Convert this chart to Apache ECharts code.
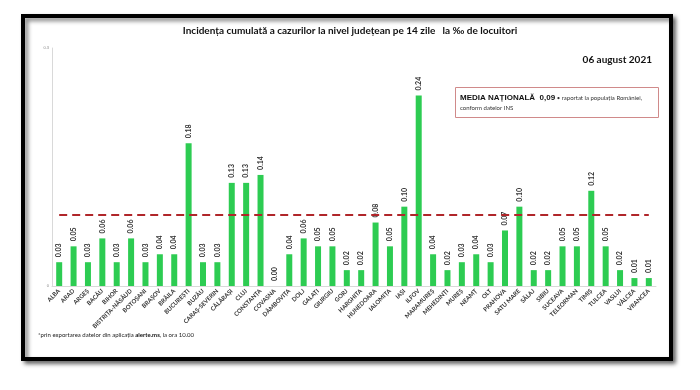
<!DOCTYPE html>
<html>
<head>
<meta charset="utf-8">
<script src="https://cdn.jsdelivr.net/npm/echarts@6/dist/echarts.min.js"></script>
<style>html,body{margin:0;padding:0;background:#fff;}#c{width:700px;height:390px;}</style>
</head>
<body>
<div id="c"></div>
<script>
var counties = ['ALBA','ARAD','ARGEȘ','BACĂU','BIHOR','BISTRIȚA-NĂSĂUD','BOTOȘANI','BRAȘOV','BRĂILA','BUCUREȘTI','BUZĂU','CARAȘ-SEVERIN','CĂLĂRAȘI','CLUJ','CONSTANȚA','COVASNA','DÂMBOVIȚA','DOLJ','GALAȚI','GIURGIU','GORJ','HARGHITA','HUNEDOARA','IALOMIȚA','IAȘI','ILFOV','MARAMUREȘ','MEHEDINȚI','MUREȘ','NEAMȚ','OLT','PRAHOVA','SATU MARE','SĂLAJ','SIBIU','SUCEAVA','TELEORMAN','TIMIȘ','TULCEA','VASLUI','VÂLCEA','VRANCEA'];
var incidence = [0.03,0.05,0.03,0.06,0.03,0.06,0.03,0.04,0.04,0.18,0.03,0.03,0.13,0.13,0.14,0.00,0.04,0.06,0.05,0.05,0.02,0.02,0.08,0.05,0.10,0.24,0.04,0.02,0.03,0.04,0.03,0.07,0.10,0.02,0.02,0.05,0.05,0.12,0.05,0.02,0.01,0.01];
var nationalAverage = 0.09;
var yMax = 0.3;
var titleText = 'Incidența cumulată a cazurilor la nivel județean pe 14 zile   la ‰ de locuitori';
var dateText = '06 august 2021';

var chart = echarts.init(document.getElementById('c'));
chart.setOption({
  animation: false,
  backgroundColor: '#ffffff',
  grid: {left: 52, right: 44, top: 48, bottom: 104},
  xAxis: {
    type: 'category',
    data: counties,
    axisLine: {lineStyle: {color: '#d9d9d9', width: 1}},
    axisTick: {show: false},
    axisLabel: {rotate: 45, interval: 0, fontSize: 6, fontWeight: 'bold', color: '#333', fontFamily: 'Lato', margin: 4}
  },
  yAxis: {
    type: 'value', min: 0, max: yMax, interval: yMax,
    axisLine: {show: true, lineStyle: {color: '#d9d9d9', width: 1}},
    axisTick: {show: false},
    splitLine: {show: false},
    axisLabel: {fontSize: 4, color: '#888', margin: 3, formatter: function(v){return v===0?'0':String(v);}}
  },
  series: [{
    type: 'bar',
    data: incidence,
    barWidth: 6,
    itemStyle: {color: '#2dcc52'},
    label: {
      show: true, position: 'top', rotate: 90, align: 'left', verticalAlign: 'middle', distance: 5,
      fontSize: 7, fontWeight: 'bold', color: '#333', fontFamily: 'Lato',
      formatter: function(p){return p.value.toFixed(2);}
    },
    markLine: {
      silent: true, symbol: 'none', label: {show: false},
      lineStyle: {color: '#b0262a', type: [8, 5], width: 2},
      data: [[{coord: [0, nationalAverage]}, {coord: [counties.length - 1, nationalAverage]}]]
    }
  }],
  graphic: [
    {type: 'rect', z: -1, shape: {x: 23, y: 16, width: 648, height: 343},
     style: {fill: '#fff', stroke: '#000', lineWidth: 4, shadowBlur: 4, shadowOffsetX: 3, shadowOffsetY: 3, shadowColor: 'rgba(0,0,0,0.5)'}},
    {type: 'text', x: 350, y: 31, style: {text: titleText, fontFamily: 'Lato', fontWeight: 'bold', fontSize: 10, fill: '#111', align: 'center', verticalAlign: 'middle'}},
    {type: 'text', x: 652, y: 60, style: {text: dateText, fontFamily: 'Lato', fontWeight: 'bold', fontSize: 10, fill: '#111', align: 'right', verticalAlign: 'middle'}},
    {type: 'rect', shape: {x: 455.5, y: 87.5, width: 203, height: 30}, style: {fill: '#fff', stroke: '#d08a8a', lineWidth: 1}},
    {type: 'text', x: 460, y: 98, style: {
      rich: {b: {fontFamily: 'Liberation Sans', fontWeight: 'bold', fontSize: 8, fill: '#111'}, s: {fontFamily: 'Lato', fontSize: 6, fill: '#333'}},
      text: '{b|MEDIA NAȚIONALĂ  0,09}{s| • raportat la populația României,}', verticalAlign: 'middle'}},
    {type: 'text', x: 460, y: 108, style: {text: 'conform datelor INS', fontFamily: 'Lato', fontSize: 6, fill: '#333', verticalAlign: 'middle'}},
    {type: 'text', x: 38, y: 335, style: {
      rich: {n: {fontFamily: 'Lato', fontSize: 6, fill: '#222'}, b: {fontFamily: 'Lato', fontSize: 6, fontWeight: 'bold', fill: '#111'}},
      text: '{n|*prin exportarea datelor din aplicația }{b|alerte.ms}{n|, la ora 10.00}', verticalAlign: 'middle'}}
  ]
});
</script>
</body>
</html>
